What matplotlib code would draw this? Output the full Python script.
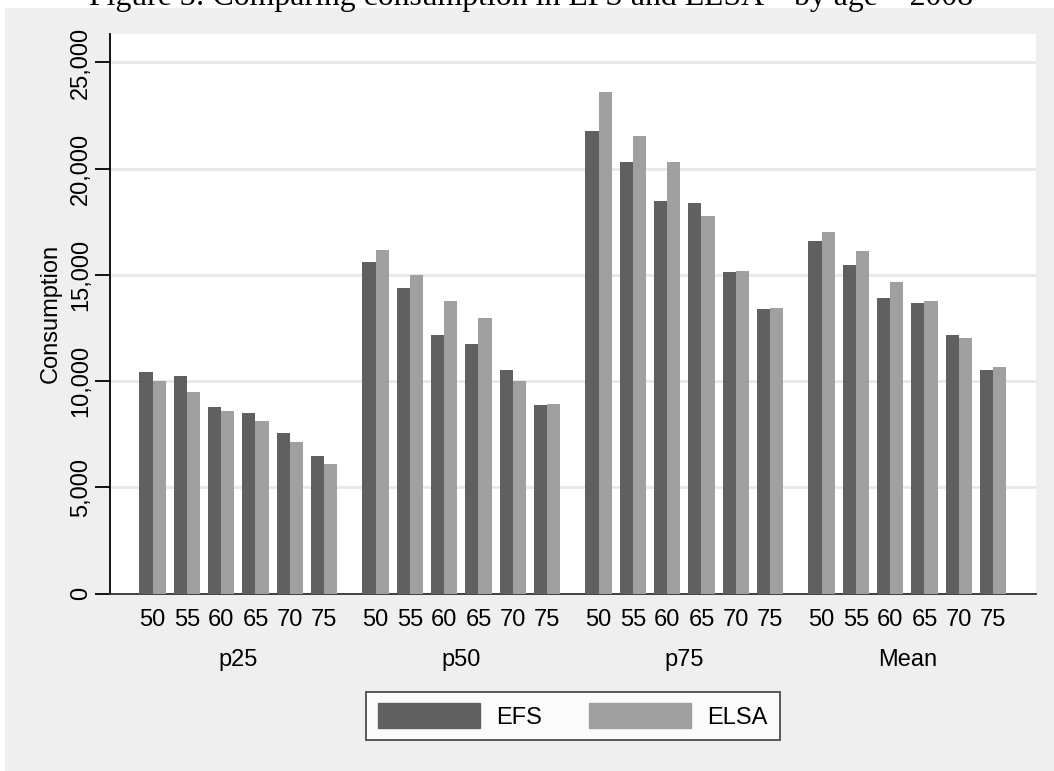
import matplotlib
matplotlib.use("Agg")
import matplotlib.pyplot as plt
from matplotlib.patches import Rectangle, Patch
from matplotlib.transforms import blended_transform_factory

groups = ["p25", "p50", "p75", "Mean"]
ages = ["50", "55", "60", "65", "70", "75"]

efs = [
    [10440, 10230, 8780, 8480, 7540, 6470],
    [15590, 14400, 12170, 11730, 10510, 8880],
    [21750, 20310, 18480, 18400, 15120, 13400],
    [16600, 15480, 13920, 13690, 12170, 10510],
]
elsa = [
    [10000, 9470, 8580, 8110, 7150, 6080],
    [16170, 15000, 13770, 12990, 10020, 8910],
    [23600, 21550, 20330, 17770, 15190, 13440],
    [17020, 16110, 14670, 13760, 12020, 10680],
]

EFS_COLOR = "#606060"
ELSA_COLOR = "#a0a0a0"
BG = "#efefef"

plt.rcParams["font.family"] = ["Liberation Sans", "DejaVu Sans"]

fig = plt.figure(figsize=(10.54, 7.71), dpi=100, facecolor="white")
fig.patches.append(Rectangle((5 / 1054, 0), 1, 1 - 8 / 771,
                             transform=fig.transFigure, facecolor=BG,
                             edgecolor="none", zorder=-10))

ax = fig.add_axes([110 / 1054, 1 - 593.5 / 771, 926 / 1054, 559.5 / 771])
ax.set_facecolor("white")

width = 0.385
centers = []
for g in range(len(groups)):
    for i in range(len(ages)):
        x = g * 6.5 + i
        centers.append(x)
        ax.bar(x - width / 2, efs[g][i], width, color=EFS_COLOR, zorder=3)
        ax.bar(x + width / 2, elsa[g][i], width, color=ELSA_COLOR, zorder=3)

ax.set_xlim(-1.24, 25.75)
ax.set_ylim(0, 26340)
ax.set_yticks(range(0, 25001, 5000))
ax.set_yticklabels([f"{v:,}" for v in range(0, 25001, 5000)],
                   rotation=90, va="center", fontsize=17)
ax.yaxis.grid(True, color="#e8e8e8", linewidth=2, zorder=0)
ax.tick_params(axis="y", length=11, width=1.3, pad=2)
ax.set_ylabel("Consumption", fontsize=17, labelpad=6)

ax.set_xticks(centers)
ax.set_xticklabels(ages * len(groups), fontsize=17)
ax.tick_params(axis="x", length=0, pad=11)

trans = blended_transform_factory(ax.transData, fig.transFigure)
for g, name in enumerate(groups):
    ax.text(g * 6.5 + 2.5, 1 - 660 / 771, name, transform=trans,
            ha="center", va="center", fontsize=17)

for side in ["top", "right"]:
    ax.spines[side].set_visible(False)
ax.spines["left"].set_linewidth(1.3)
ax.spines["bottom"].set_linewidth(1.3)
ax.spines["bottom"].set_color("#333333")

handles = [Patch(color=EFS_COLOR), Patch(color=ELSA_COLOR)]
leg = fig.legend(handles, ["EFS", "ELSA"], ncol=2, loc="center",
                 bbox_to_anchor=(573 / 1054, 1 - 716 / 771), fontsize=17,
                 frameon=True, fancybox=False, handlelength=4.3,
                 handleheight=1.2, handletextpad=0.7, columnspacing=2.0,
                 borderpad=0.5)
leg.get_frame().set_edgecolor("#222222")
leg.get_frame().set_linewidth(1.3)

# title is cut off at the top edge, as in the source image
fig.text(531 / 1054, 1 - 5 / 771,
         "Figure 3: Comparing consumption in EFS and ELSA \u2013 by age \u2013 2008",
         ha="center", va="baseline", fontsize=22.9, family="Liberation Serif")

fig.savefig("out.png", dpi=100, facecolor="white")
